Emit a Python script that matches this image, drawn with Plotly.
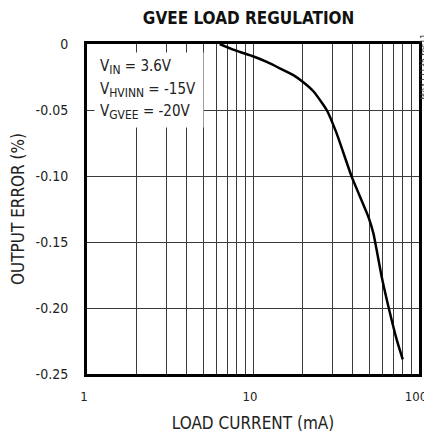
import plotly.graph_objects as go

# load current (mA) and output error (%)
load_current = [6.3, 7.6, 8.7, 10.0, 12.1, 14.5, 17.5, 20.1, 23.1, 26.5, 27.8, 31.9, 39.3,
                49.5, 53.1, 59.6, 66.9, 73.4, 79.8]
output_error = [0.0, -0.0043, -0.0068, -0.0093, -0.0136, -0.0184, -0.0236, -0.0290, -0.0358,
                 -0.046, -0.050, -0.0677, -0.1005, -0.1308, -0.1434, -0.1763, -0.204, -0.224, -0.239]

y_ticks = [0, -0.05, -0.10, -0.15, -0.20, -0.25]
y_labels = ["0", "-0.05", "-0.10", "-0.15", "-0.20", "-0.25"]
x_ticks = [1, 10, 100]
x_labels = ["1", "10", "100"]
minor_x = [2, 3, 4, 5, 6, 7, 8, 9, 20, 30, 40, 50, 60, 70, 80, 90]
conditions = [("IN", "3.6V"), ("HVINN", "-15V"), ("GVEE", "-20V")]

FONT = "DejaVu Sans Condensed, Roboto, sans-serif"
GRID = "#3a3a3a"

fig = go.Figure()
fig.add_trace(go.Scatter(
    x=load_current, y=output_error, mode="lines",
    line=dict(color="black", width=2.5, shape="spline", smoothing=0.5),
    showlegend=False
))

# white box hiding the grid behind the conditions text
fig.add_annotation(
    xref="paper", yref="paper", x=0.021, y=0.976, xanchor="left", yanchor="top",
    showarrow=False, text=" ", width=108, height=74, bgcolor="white", borderpad=0
)
sub = '<sub><span style="font-size:12px">{}</span></sub>'
for i, (name, val) in enumerate(conditions):
    fig.add_annotation(
        xref="paper", yref="paper", x=0.033, y=0.930 - i * 0.068,
        xanchor="left", yanchor="middle", showarrow=False,
        text="V" + sub.format(name) + " = " + val,
        font=dict(family=FONT, size=15, color="#222")
    )
fig.add_annotation(
    xref="paper", yref="paper", x=1.016, y=0.933, xanchor="center", yanchor="middle",
    showarrow=False, textangle=-90, text="MAX17135 toc11",
    font=dict(family=FONT, size=8.5, color="#333")
)

# the page body adds an 8px offset, so margins are trimmed on the left/top
fig.update_layout(
    width=432, height=437,
    margin=dict(l=79, r=21, t=36, b=71),
    paper_bgcolor="white", plot_bgcolor="white",
    title=dict(text="<b>GVEE LOAD REGULATION</b>", x=0.557, xanchor="center",
               y=0.977, yanchor="middle",
               font=dict(family=FONT, size=17, color="#111")),
    font=dict(family=FONT, size=14, color="#222"),
    xaxis=dict(
        type="log", range=[0, 2], automargin=False,
        tickvals=x_ticks, ticktext=x_labels, ticks="",
        ticklabelstandoff=8, ticklabelshift=-3, ticklabeloverflow="allow",
        tickfont=dict(size=13),
        showgrid=True, gridcolor=GRID, gridwidth=1,
        minor=dict(tickvals=minor_x, showgrid=True, gridcolor=GRID, gridwidth=1),
        showline=True, linecolor="black", linewidth=3, mirror=True,
        title=dict(text="LOAD CURRENT (mA)", standoff=15),
        zeroline=False
    ),
    yaxis=dict(
        range=[-0.25, 0], automargin=False,
        tickvals=y_ticks, ticktext=y_labels, ticks="",
        ticklabelstandoff=13,
        showgrid=True, gridcolor=GRID, gridwidth=1,
        showline=True, linecolor="black", linewidth=3, mirror=True,
        title=dict(text="OUTPUT ERROR (%)", standoff=14),
        zeroline=False
    )
)

fig.write_html("out.html")
